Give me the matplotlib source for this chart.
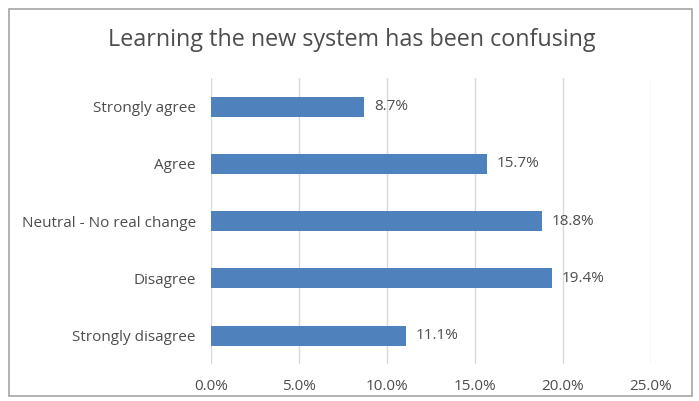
import matplotlib.pyplot as plt
from matplotlib.patches import Rectangle

# Data
categories = ['Strongly agree', 'Agree', 'Neutral - No real change', 'Disagree', 'Strongly disagree']
values = [8.7, 15.7, 18.8, 19.4, 11.1]
xticks = [0, 5, 10, 15, 20, 25]

plt.rcParams['font.family'] = ['Open Sans', 'DejaVu Sans']
txt_color = '#4d4d4d'

fig = plt.figure(figsize=(6.99, 4.01), dpi=100)
ax = fig.add_axes([0.302, 0.092, 0.629, 0.713])

y = list(range(len(categories)))
ax.barh(y, values, height=0.35, color='#4F81BD', zorder=3)
for yi, v in zip(y, values):
    ax.text(v + 0.55, yi, f'{v:.1f}%', va='center', ha='left', fontsize=11, color=txt_color)

ax.set_ylim(len(categories) - 0.5, -0.5)
ax.set_yticks(y)
ax.set_yticklabels(categories, fontsize=11, color=txt_color)
ax.set_xlim(0, 25)
ax.set_xticks(xticks)
ax.set_xticklabels([f'{t:.1f}%' for t in xticks], fontsize=11, color=txt_color)
ax.tick_params(axis='both', length=0)
ax.tick_params(axis='y', pad=11)
ax.tick_params(axis='x', pad=11)
ax.grid(axis='x', color='#D9D9D9', linewidth=1, zorder=0)
for s in ax.spines.values():
    s.set_visible(False)

fig.text(0.504, 0.9, 'Learning the new system has been confusing',
         ha='center', va='center', fontsize=16.8, color=txt_color)

# chart border
fig.patches.append(Rectangle((0.013, 0.012), 0.977, 0.965, transform=fig.transFigure,
                             fill=False, edgecolor='#A6A6A6', linewidth=1.2))

fig.savefig('out.png', dpi=100)
